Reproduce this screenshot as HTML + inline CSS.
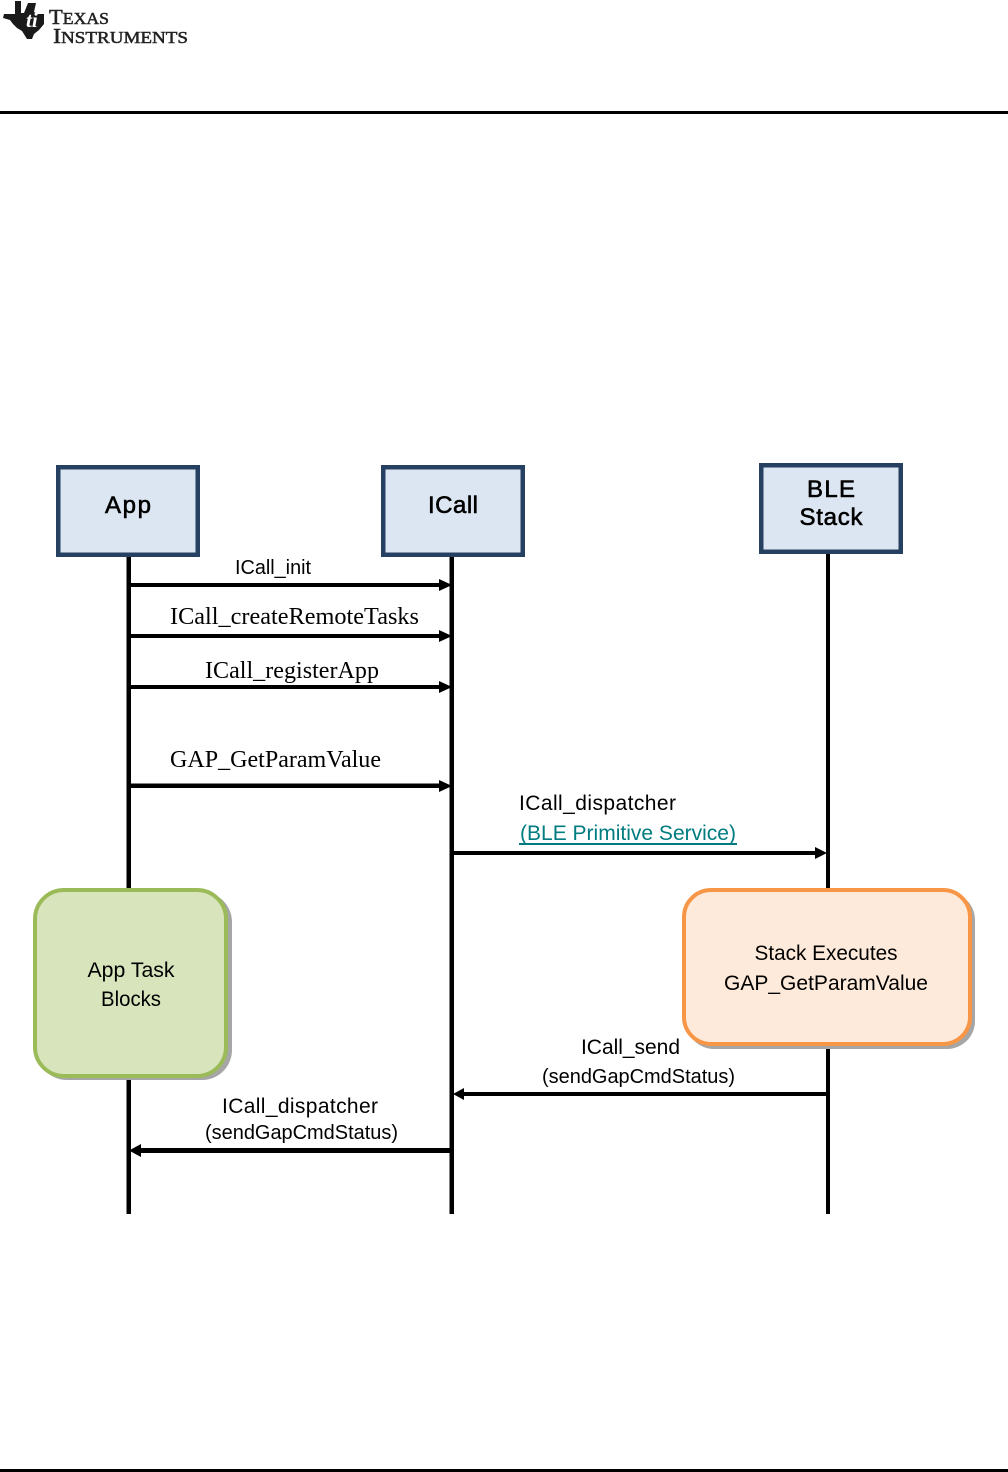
<!DOCTYPE html>
<html>
<head>
<meta charset="utf-8">
<style>
html,body{margin:0;padding:0;background:#fff;width:1008px;height:1472px;overflow:hidden}
svg{display:block}
text{fill:#000;font-family:"Liberation Sans",sans-serif}
.s{font-family:"Liberation Serif",serif}
</style>
</head>
<body>
<svg width="1008" height="1472" viewBox="0 0 1008 1472" xmlns="http://www.w3.org/2000/svg">
<!-- logo -->
<polygon points="15,1 21,1 21,13 24,13 28,3 36,3 34,12 38,14 44,14 44,24 39,30 34,34 32,39 27,39 22,31 17,28 13,24 10,20 3,18 4,14 15,14" fill="#1a1a1a"/>
<text x="26" y="27" font-size="21" font-weight="bold" font-style="italic" style="fill:#fff" class="s">ti</text>
<text class="s" x="49" y="24" font-size="21" textLength="60" lengthAdjust="spacingAndGlyphs" stroke="#222" stroke-width=".5" style="fill:#222">T<tspan font-size="16.5">EXAS</tspan></text>
<text class="s" x="53" y="43" font-size="21" textLength="135" lengthAdjust="spacingAndGlyphs" stroke="#222" stroke-width=".5" style="fill:#222">I<tspan font-size="16.5">NSTRUMENTS</tspan></text>
<!-- rules -->
<rect x="0" y="111" width="1008" height="3" fill="#000"/>
<rect x="0" y="1469" width="1008" height="3" fill="#000"/>

<!-- lifelines -->
<rect x="126.5" y="555" width="4.5" height="659" fill="#000"/>
<rect x="449.5" y="555" width="4.5" height="659" fill="#000"/>
<rect x="826" y="552" width="4" height="662" fill="#000"/>

<!-- header boxes -->
<g fill="#dce6f2" stroke="#254061" stroke-width="4.5">
<rect x="58.25" y="467.25" width="139.5" height="87.5"/>
<rect x="383.25" y="467.25" width="139.5" height="87.5"/>
<rect x="761.25" y="465.25" width="139.5" height="86.5"/>
</g>
<text x="128" y="513" font-size="24" text-anchor="middle" textLength="46" stroke="#000" stroke-width=".6">App</text>
<text x="453" y="513" font-size="24" text-anchor="middle" textLength="50" stroke="#000" stroke-width=".6">ICall</text>
<text x="831" y="497" font-size="24" text-anchor="middle" textLength="48" stroke="#000" stroke-width=".6">BLE</text>
<text x="831" y="525" font-size="24" text-anchor="middle" textLength="63" stroke="#000" stroke-width=".6">Stack</text>

<!-- arrows -->
<g fill="#000">
<rect x="131" y="583" width="310" height="4"/><polygon points="439,579 452,585 439,591"/>
<rect x="131" y="634" width="310" height="4"/><polygon points="439,630 452,636 439,642"/>
<rect x="131" y="685" width="310" height="4"/><polygon points="439,681 452,687 439,693"/>
<rect x="131" y="783.5" width="310" height="4.5"/><polygon points="439,780 452,786 439,792"/>
<rect x="454" y="851" width="364" height="4"/><polygon points="815,847 827,853 815,859"/>
<rect x="463" y="1092" width="364" height="4"/><polygon points="464,1088 453,1094 464,1100"/>
<rect x="140" y="1148" width="310" height="5"/><polygon points="141,1144 129,1150.5 141,1157"/>
</g>

<!-- labels -->
<text x="235" y="574" font-size="20" textLength="76" lengthAdjust="spacingAndGlyphs">ICall_init</text>
<text class="s" x="170" y="624" font-size="24" textLength="249" lengthAdjust="spacingAndGlyphs">ICall_createRemoteTasks</text>
<text class="s" x="205" y="678" font-size="24" textLength="174" lengthAdjust="spacingAndGlyphs">ICall_registerApp</text>
<text class="s" x="170" y="767" font-size="24" textLength="211" lengthAdjust="spacingAndGlyphs">GAP_GetParamValue</text>
<text x="519" y="810" font-size="21" textLength="157" lengthAdjust="spacing">ICall_dispatcher</text>
<text x="520" y="840" font-size="21" textLength="216" lengthAdjust="spacingAndGlyphs" style="fill:#007c80">(BLE Primitive Service)</text>
<rect x="519" y="843" width="218" height="2" fill="#007c80"/>
<text x="581" y="1054" font-size="21" textLength="99" lengthAdjust="spacing">ICall_send</text>
<text x="542" y="1083" font-size="20" textLength="193" lengthAdjust="spacingAndGlyphs">(sendGapCmdStatus)</text>
<text x="222" y="1113" font-size="21" textLength="156" lengthAdjust="spacing">ICall_dispatcher</text>
<text x="205" y="1139" font-size="20" textLength="193" lengthAdjust="spacingAndGlyphs">(sendGapCmdStatus)</text>

<!-- rounded boxes -->
<rect x="37" y="892" width="195" height="188" rx="30" fill="#a6a6a6"/>
<rect x="35" y="890" width="191" height="186" rx="29" fill="#d8e4bc" stroke="#9bbb59" stroke-width="4"/>
<text x="131" y="977" font-size="21" text-anchor="middle" textLength="87" lengthAdjust="spacingAndGlyphs">App Task</text>
<text x="131" y="1006" font-size="21" text-anchor="middle" textLength="60" lengthAdjust="spacingAndGlyphs">Blocks</text>

<rect x="686" y="892" width="289" height="157" rx="28" fill="#a6a6a6"/>
<rect x="684" y="890" width="286" height="154" rx="27" fill="#fdeada" stroke="#f79646" stroke-width="4"/>
<text x="826" y="960" font-size="21" text-anchor="middle" textLength="143" lengthAdjust="spacingAndGlyphs">Stack Executes</text>
<text x="826" y="990" font-size="21" text-anchor="middle" textLength="204" lengthAdjust="spacingAndGlyphs">GAP_GetParamValue</text>
</svg>
</body>
</html>
